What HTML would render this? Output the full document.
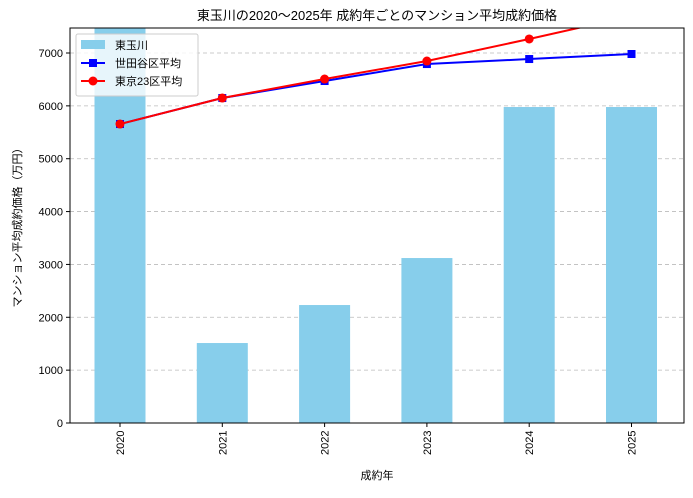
<!DOCTYPE html>
<html><head><meta charset="utf-8"><style>
body{margin:0;background:#fff;font-family:"Liberation Sans","Noto Sans CJK JP",sans-serif;}
svg text{font-family:"Liberation Sans","Noto Sans CJK JP",sans-serif;fill:#000;}
</style></head><body>
<svg id="c" width="693" height="493" xmlns="http://www.w3.org/2000/svg">
<defs><clipPath id="pa"><rect x="70" y="28" width="614" height="395"/></clipPath></defs>
<text x="377" y="20" font-size="13" text-anchor="middle">東玉川の2020〜2025年 成約年ごとのマンション平均成約価格</text>
<g id="grid"></g>
<g id="bars" clip-path="url(#pa)"></g>
<g id="lines" clip-path="url(#pa)"></g>
<rect x="70" y="28" width="614" height="395" fill="none" stroke="#000" stroke-width="1"/>
<g id="axes"></g>
<text x="377" y="479" font-size="11" text-anchor="middle">成約年</text>
<text transform="translate(21,225) rotate(-90)" font-size="11" text-anchor="middle">マンション平均成約価格（万円）</text>
<g>
<rect x="76" y="34" width="122" height="62" fill="#fff" fill-opacity="0.8" stroke="#ccc" rx="2"/>
<rect x="81" y="40" width="24" height="9" fill="#87ceeb"/>
<text x="115" y="49" font-size="11">東玉川</text>
<line x1="81" y1="63" x2="105" y2="63" stroke="#0000ff" stroke-width="2"/><rect x="89" y="59" width="8" height="8" fill="#0000ff"/>
<text x="115" y="67" font-size="11">世田谷区平均</text>
<line x1="81" y1="81" x2="105" y2="81" stroke="#ff0000" stroke-width="2"/><circle cx="93" cy="81" r="4.5" fill="#ff0000"/>
<text x="115" y="85" font-size="11">東京23区平均</text>
</g>
</svg>
<script>
const years=["2020","2021","2022","2023","2024","2025"];
const barVals=[8000,1513,2232,3121,5978,5978];
const setagaya=[5656,6148,6470,6791,6886,6981];
const tokyo23=[5656,6148,6508,6848,7265,7700];
const yTicks=[0,1000,2000,3000,4000,5000,6000,7000];
const NS="http://www.w3.org/2000/svg";
const y=v=>423-v*(370/7000);
const x=i=>120+i*102.3;
function mk(t,a,p){const e=document.createElementNS(NS,t);for(const k in a)e.setAttribute(k,a[k]);p.appendChild(e);return e;}
const G=document.getElementById('grid'),B=document.getElementById('bars'),L=document.getElementById('lines'),A=document.getElementById('axes');
yTicks.forEach(v=>{
 const g=mk('line',{x1:70,x2:684,y1:y(v),y2:y(v),stroke:'#bbb','stroke-dasharray':'4,3','stroke-width':0.8},G);
 
 
 mk('line',{x1:66,x2:70,y1:y(v),y2:y(v),stroke:'#000'},A);
 const t=mk('text',{x:63,y:y(v)+4,'font-size':11,'text-anchor':'end'},A);t.textContent=v;
 
 
});
years.forEach((yr,i)=>{
 const r=mk('rect',{x:x(i)-25.5,y:y(barVals[i]),width:51,height:423-y(barVals[i]),fill:'#87ceeb'},B);
 
 
 mk('line',{x1:x(i),x2:x(i),y1:423,y2:427,stroke:'#000'},A);
 const t=mk('text',{transform:`translate(${x(i)+4},455) rotate(-90)`,'font-size':11},A);t.textContent=yr;
 
 
});
function line(vals,col,marker,name){
 const p=mk('polyline',{points:vals.map((v,i)=>x(i)+','+y(v)).join(' '),fill:'none',stroke:col,'stroke-width':2},L);
 
 
 vals.forEach((v,i)=>{
  const m=marker==='s'?mk('rect',{x:x(i)-4,y:y(v)-4,width:8,height:8,fill:col},L):mk('circle',{cx:x(i),cy:y(v),r:4.5,fill:col},L);
  
  
 });
}
line(setagaya,'#0000ff','s','setagaya');
line(tokyo23,'#ff0000','o','tokyo23');
</script>
</body></html>
